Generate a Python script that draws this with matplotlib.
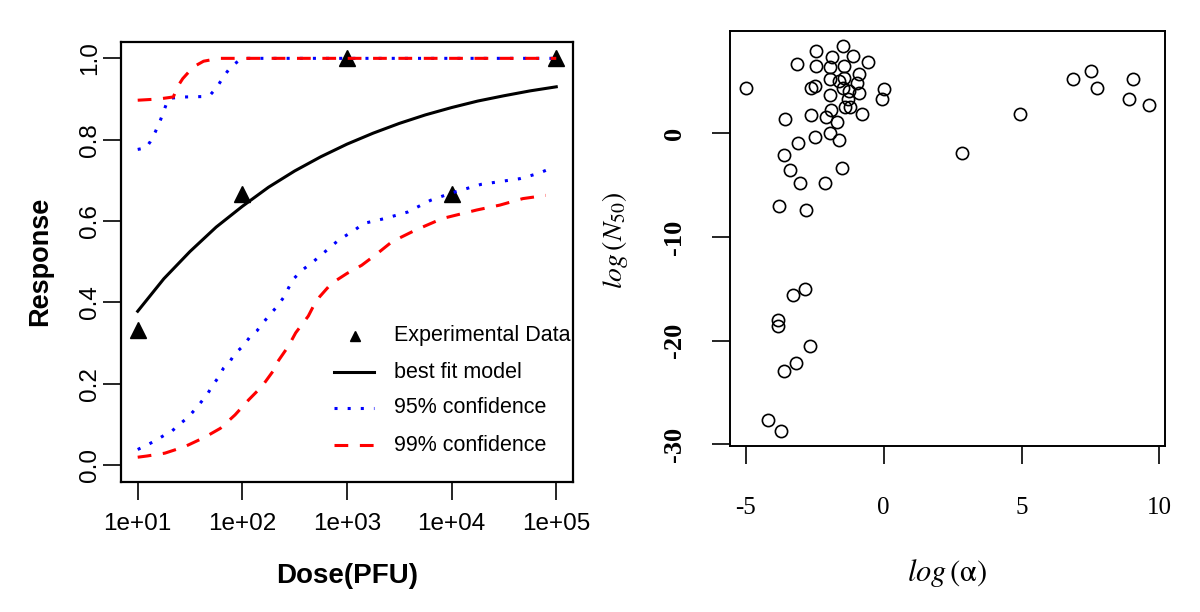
import numpy as np
import matplotlib
matplotlib.use("Agg")
import matplotlib.pyplot as plt
from matplotlib.lines import Line2D

# ---------------- data: left panel (dose-response) ----------------
exp_dose = [1e1, 1e2, 1e3, 1e4, 1e5]
exp_resp = [0.333, 0.667, 1.0, 0.667, 1.0]

fit_logdose = [1.0, 1.125, 1.25, 1.5, 1.75, 2.0, 2.25, 2.5, 2.75, 3.0, 3.25, 3.5,
               3.75, 4.0, 4.25, 4.5, 4.75, 5.0]
fit_resp = [0.378, 0.418, 0.458, 0.525, 0.585, 0.636, 0.683, 0.723, 0.758, 0.789,
            0.816, 0.840, 0.861, 0.879, 0.895, 0.908, 0.920, 0.930]

ci95_up_logdose = [1.0, 1.08, 1.12, 1.17, 1.22, 1.27, 1.31, 1.45, 1.62, 1.70, 1.76,
                   1.82, 1.89, 1.96, 2.04, 5.0]
ci95_up = [0.776, 0.780, 0.795, 0.820, 0.850, 0.885, 0.902, 0.905, 0.906, 0.912,
           0.930, 0.955, 0.979, 0.993, 1.0, 1.0]

ci99_up_logdose = [1.0, 1.2, 1.34, 1.39, 1.43, 1.50, 1.56, 1.63, 1.78, 5.0]
ci99_up = [0.897, 0.900, 0.905, 0.934, 0.950, 0.970, 0.983, 0.993, 1.0, 1.0]

ci95_lo_logdose = [1.0, 1.09, 1.17, 1.26, 1.33, 1.40, 1.48, 1.55, 1.61, 1.67, 1.72,
                   1.77, 1.82, 1.88, 1.93, 2.01, 2.07, 2.14, 2.20, 2.26, 2.33, 2.40,
                   2.48, 2.57, 2.66, 2.77, 2.92, 3.07, 3.16, 3.36, 3.58, 3.80, 4.0,
                   4.28, 4.65, 4.83, 4.98]
ci95_lo = [0.038, 0.049, 0.060, 0.074, 0.084, 0.100, 0.117, 0.137, 0.156, 0.176,
           0.197, 0.215, 0.238, 0.254, 0.274, 0.293, 0.314, 0.330, 0.350, 0.369,
           0.389, 0.414, 0.455, 0.479, 0.496, 0.520, 0.553, 0.577, 0.594, 0.606,
           0.622, 0.651, 0.669, 0.690, 0.704, 0.717, 0.733]

ci99_lo_logdose = [1.0, 1.09, 1.26, 1.45, 1.64, 1.79, 1.93, 2.06, 2.19, 2.30, 2.33,
                   2.44, 2.51, 2.63, 2.68, 2.74, 2.85, 3.0, 3.14, 3.29, 3.43, 3.65,
                   3.91, 4.24, 4.46, 4.68, 4.90]
ci99_lo = [0.019, 0.022, 0.029, 0.045, 0.068, 0.090, 0.123, 0.160, 0.194, 0.233,
           0.251, 0.292, 0.325, 0.366, 0.391, 0.414, 0.446, 0.471, 0.491, 0.520,
           0.549, 0.577, 0.606, 0.627, 0.639, 0.655, 0.663]

dose_ticks = [1e1, 1e2, 1e3, 1e4, 1e5]
dose_ticklabels = ["1e+01", "1e+02", "1e+03", "1e+04", "1e+05"]
resp_ticks = [0.0, 0.2, 0.4, 0.6, 0.8, 1.0]
resp_ticklabels = ["0.0", "0.2", "0.4", "0.6", "0.8", "1.0"]
legend_labels = ["Experimental Data", "best fit model", "95% confidence", "99% confidence"]

# ---------------- data: right panel (scatter) ----------------
log_alpha = [-4.99, -3.13, -2.46, -2.46, -1.49, -1.87, -1.11, -0.55, -1.95, -1.44,
             -0.88, -1.95, -1.44, -0.98, -2.64, -2.47, -1.48, -0.90, 0.00, -0.05,
             -1.95, -1.28, -1.39, -1.21, -1.90, -0.78, -2.64, -2.09, -1.70, -3.56,
             4.95, 6.88, 7.51, 7.75, 9.05, 8.90, 9.61, -2.47, -1.93, -1.60,
             -3.12, -3.62, 2.84, -3.41, -1.51, -3.02, -2.14, -3.79, -2.80, -2.85,
             -3.29, -3.83, -3.83, -2.68, -3.17, -3.62, -4.18, -3.72, -1.60, -1.25]
log_n50 = [4.36, 6.70, 7.91, 6.51, 8.39, 7.34, 7.40, 6.83, 6.38, 6.44,
           5.74, 5.19, 5.35, 4.84, 4.39, 4.52, 4.39, 3.91, 4.26, 3.30,
           3.72, 3.30, 2.53, 2.53, 2.28, 1.89, 1.76, 1.57, 1.06, 1.35,
           1.89, 5.19, 5.96, 4.36, 5.22, 3.34, 2.76, -0.35, 0.03, -0.67,
           -0.99, -2.09, -1.95, -3.53, -3.40, -4.81, -4.81, -6.99, -7.44, -15.03,
           -15.61, -17.98, -18.56, -20.48, -22.18, -22.95, -27.63, -28.69, 5.00, 4.10]
alpha_ticks = [-5, 0, 5, 10]
n50_ticks = [0, -10, -20, -30]

BLUE = "#0000FF"
RED = "#FF0000"

fig = plt.figure(figsize=(12, 6.12), dpi=100)
plt.rcParams["mathtext.fontset"] = "stix"

# ================= left panel =================
ax1 = fig.add_axes([0.1008, 0.2124, 0.3767, 0.7195])
sans = "Liberation Sans"
ax1.plot(exp_dose, exp_resp, linestyle="none", marker="^", color="black",
         markersize=11, zorder=2)
ax1.plot(np.power(10.0, fit_logdose), fit_resp, color="black", lw=2.2, zorder=3)
ax1.plot(np.power(10.0, ci95_up_logdose), ci95_up, color=BLUE, lw=2.2,
         linestyle=(0, (1, 3.3)), zorder=3)
ax1.plot(np.power(10.0, ci95_lo_logdose), ci95_lo, color=BLUE, lw=2.2,
         linestyle=(0, (1, 3.3)), zorder=3)
ax1.plot(np.power(10.0, ci99_up_logdose), ci99_up, color=RED, lw=2.2,
         linestyle=(0, (4.5, 3.8)), zorder=4)
ax1.plot(np.power(10.0, ci99_lo_logdose), ci99_lo, color=RED, lw=2.2,
         linestyle=(0, (4.5, 3.8)), zorder=4)

ax1.set_xscale("log")
ax1.set_xlim(10 ** 0.84, 10 ** 5.16)
ax1.set_ylim(-0.042, 1.041)
ax1.set_xticks(dose_ticks)
ax1.set_xticklabels(dose_ticklabels, fontsize=17.5, family=sans)
ax1.xaxis.set_minor_locator(matplotlib.ticker.NullLocator())
ax1.set_yticks(resp_ticks)
ax1.set_yticklabels(resp_ticklabels, fontsize=17.5, family=sans, rotation=90,
                    va="center")
ax1.tick_params(axis="both", direction="out", length=13, width=1.2)
ax1.tick_params(axis="x", pad=9)
ax1.tick_params(axis="y", pad=1.5)
for s in ax1.spines.values():
    s.set_linewidth(1.6)

ax1.set_xlabel("Dose(PFU)", fontsize=20, fontweight="bold", family=sans, va="center")
ax1.xaxis.set_label_coords(0.5, -0.2135)
ax1.set_ylabel("Response", fontsize=19.5, fontweight="bold", family=sans, va="center")
ax1.yaxis.set_label_coords(-0.179, 0.5)

# manual legend (no box, clipped by the plot region as in the original)
rows_y = [0.3316, 0.2498, 0.1681, 0.0840]
x0, x1, xm, xt = 0.4712, 0.5597, 0.5177, 0.604
ax1.plot([xm], [rows_y[0]], transform=ax1.transAxes, marker="^", color="black",
         markersize=7, linestyle="none", clip_on=False)
ax1.add_line(Line2D([x0, x1], [rows_y[1]] * 2, transform=ax1.transAxes,
                    color="black", lw=2.2))
ax1.add_line(Line2D([x0, x1], [rows_y[2]] * 2, transform=ax1.transAxes,
                    color=BLUE, lw=2.2, linestyle=(0, (1, 3.3))))
ax1.add_line(Line2D([x0, x1], [rows_y[3]] * 2, transform=ax1.transAxes,
                    color=RED, lw=2.2, linestyle=(0, (4.5, 3.8))))
for lab, yy in zip(legend_labels, rows_y):
    ax1.text(xt, yy, lab, transform=ax1.transAxes, fontsize=15.5, family=sans,
             va="center", ha="left", clip_on=True)

# ================= right panel =================
ax2 = fig.add_axes([0.6083, 0.2712, 0.3625, 0.6781])
serif = "Liberation Serif"
ax2.plot(log_alpha, log_n50, linestyle="none", marker="o", mfc="none",
         mec="black", markersize=8.8, mew=1.2)
ax2.set_xlim(-5.57, 10.2)
ax2.set_ylim(-30.15, 9.85)
ax2.set_xticks(alpha_ticks)
ax2.set_xticklabels([str(v) for v in alpha_ticks], fontsize=18, family=serif)
ax2.set_yticks(n50_ticks)
ax2.set_yticklabels([str(v) for v in n50_ticks], fontsize=19, family=serif,
                    fontweight="bold", rotation=90, va="center")
ax2.tick_params(axis="both", direction="out", length=13, width=1.2)
ax2.tick_params(axis="x", pad=24)
ax2.tick_params(axis="y", pad=19)
for s in ax2.spines.values():
    s.set_linewidth(1.4)

ax2.set_xlabel(r"$log\,(\mathrm{\alpha})$", fontsize=22, va="center")
ax2.xaxis.set_label_coords(0.5, -0.306)
ax2.set_ylabel(r"$log\,(N_{50})$", fontsize=20, va="center")
ax2.yaxis.set_label_coords(-0.264, 0.496)

fig.savefig("out.png", dpi=100, facecolor="white")
